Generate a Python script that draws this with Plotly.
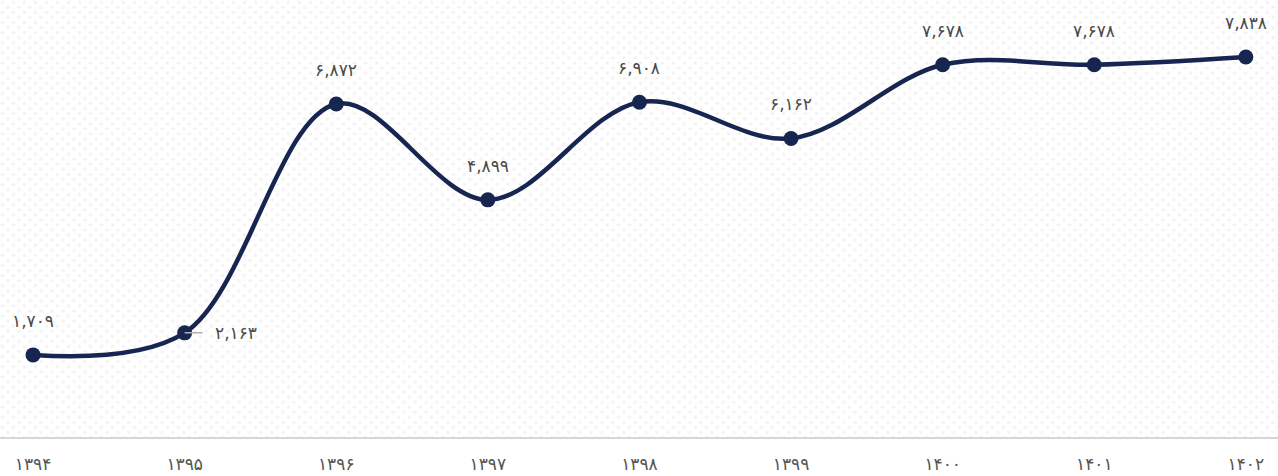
import plotly.graph_objects as go
import base64

years = ["۱۳۹۴", "۱۳۹۵", "۱۳۹۶", "۱۳۹۷", "۱۳۹۸", "۱۳۹۹", "۱۴۰۰", "۱۴۰۱", "۱۴۰۲"]
values = [1709, 2163, 6872, 4899, 6908, 6162, 7678, 7678, 7838]

FA = str.maketrans("0123456789", "۰۱۲۳۴۵۶۷۸۹")
def fa_num(v):
    return f"{v:,}".translate(FA)

xs = list(range(len(years)))
NAVY = "#172650"
FONT = "DejaVu Sans"

fig = go.Figure()
fig.add_trace(go.Scatter(
    x=xs, y=values, mode="lines+markers",
    line=dict(color=NAVY, width=4.5, shape="spline", smoothing=1.0),
    marker=dict(color=NAVY, size=15),
    hoverinfo="skip",
))

for i, v in enumerate(values):
    if i == 1:
        fig.add_annotation(x=i, y=v, text=fa_num(v), showarrow=True,
                           arrowhead=0, arrowcolor="#b0b0b0", arrowwidth=1.5,
                           ax=28, ay=0, xanchor="left", startstandoff=10,
                           font=dict(family=FONT, size=17, color="#4a4a4a"))
    else:
        fig.add_annotation(x=i, y=v, text=fa_num(v), showarrow=False,
                           yshift=34, font=dict(family=FONT, size=17, color="#4a4a4a"))

# dotted background pattern
svg = ('<svg xmlns="http://www.w3.org/2000/svg" width="1278" height="476">'
       '<defs><pattern id="p" width="11" height="11" patternUnits="userSpaceOnUse">'
       '<circle cx="2.5" cy="2.5" r="1.8" fill="#f3f3f3"/>'
       '<circle cx="8" cy="8" r="1.8" fill="#f3f3f3"/></pattern></defs>'
       '<rect width="1278" height="476" fill="url(#p)"/></svg>')
uri = "data:image/svg+xml;base64," + base64.b64encode(svg.encode()).decode()

fig.update_layout(
    width=1278, height=476,
    margin=dict(l=0, r=0, t=0, b=38, autoexpand=False),
    paper_bgcolor="white", plot_bgcolor="rgba(0,0,0,0)",
    showlegend=False,
    images=[dict(source=uri, xref="paper", yref="paper", x=0, y=1, sizex=1, sizey=1,
                 xanchor="left", yanchor="top", sizing="stretch", layer="below")],
    xaxis=dict(range=[-0.218, 8.212], tickmode="array", tickvals=xs, ticktext=years,
               showgrid=False, zeroline=False, showline=False, ticks="",
               automargin=False, ticklabelstandoff=14,
               tickfont=dict(family=FONT, size=17, color="#555")),
    yaxis=dict(range=[0, 9010], showgrid=False, showticklabels=False, automargin=False,
               zeroline=True, zerolinecolor="#d6d6d6", zerolinewidth=2, showline=False),
)

fig.write_html("out.html", config={"displayModeBar": False},
               post_script="document.body.style.margin='0';document.body.style.overflow='hidden';")
